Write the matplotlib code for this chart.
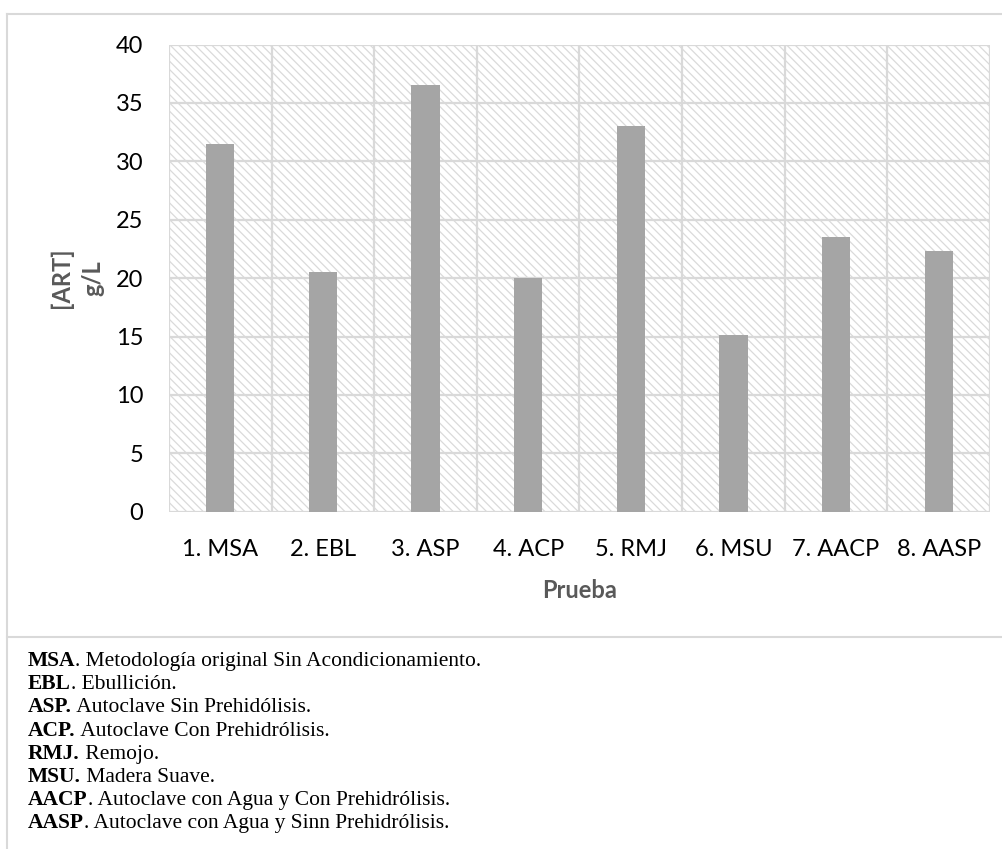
import matplotlib
matplotlib.use("Agg")
import matplotlib.pyplot as plt
from matplotlib.patches import Rectangle
from matplotlib.lines import Line2D
import numpy as np

categories = ["1. MSA", "2. EBL", "3. ASP", "4. ACP", "5. RMJ", "6. MSU", "7. AACP", "8. AASP"]
values = [31.5, 20.5, 36.5, 20.0, 33.0, 15.1, 23.5, 22.3]
yticks = [0, 5, 10, 15, 20, 25, 30, 35, 40]
note_bold = ["MSA", "EBL", "ASP.", "ACP.", "RMJ.", "MSU.", "AACP", "AASP"]
note_text = [". Metodología original Sin Acondicionamiento.",
             ". Ebullición.",
             " Autoclave Sin Prehidólisis.",
             " Autoclave Con Prehidrólisis.",
             " Remojo.",
             " Madera Suave.",
             ". Autoclave con Agua y Con Prehidrólisis.",
             ". Autoclave con Agua y Sinn Prehidrólisis."]

W, H = 1003, 849
plt.rcParams["hatch.linewidth"] = 0.9
fig = plt.figure(figsize=(W / 100, H / 100), dpi=100)
fig.patch.set_facecolor("white")

grid_c = "#d9d9d9"
sans = ["Lato", "DejaVu Sans"]

# chart area border
fig.add_artist(Line2D([7.5 / W, 7.5 / W], [0, 1 - 14 / H], color=grid_c, lw=1.5, transform=fig.transFigure))
fig.add_artist(Line2D([7.5 / W, 1], [1 - 14 / H, 1 - 14 / H], color=grid_c, lw=1.5, transform=fig.transFigure))
fig.add_artist(Line2D([7.5 / W, 1], [1 - 637 / H, 1 - 637 / H], color=grid_c, lw=1.5, transform=fig.transFigure))

left, right, top, bottom = 169, 990, 44.5, 511.7
ax = fig.add_axes([left / W, 1 - bottom / H, (right - left) / W, (bottom - top) / H])

x = np.arange(len(categories))
ax.set_xlim(-0.5, len(categories) - 0.5)
ax.set_ylim(0, 40)

# hatched background
bg = Rectangle((0, 0), 1, 1, transform=ax.transAxes, facecolor="white",
               edgecolor="#dadada", hatch="\\\\\\\\", lw=0, zorder=0)
ax.add_patch(bg)

# grid
for yv in yticks:
    ax.axhline(yv, color=grid_c, lw=1.6, zorder=1)
for xb in np.arange(-0.5, len(categories), 1.0):
    ax.axvline(xb, color=grid_c, lw=1.6, zorder=1)

ax.bar(x, values, width=0.275, color="#a5a5a5", zorder=3)

for s in ax.spines.values():
    s.set_visible(False)

ax.set_yticks(yticks)
ax.set_yticklabels([str(v) for v in yticks], fontsize=17, family=sans, color="black")
ax.set_xticks(x)
ax.set_xticklabels(categories, fontsize=17, family=sans, color="black")
ax.tick_params(axis="y", length=0, pad=18.5)
ax.tick_params(axis="x", length=0, pad=20)

fig.text(579.5 / W, 1 - 590 / H, "Prueba", ha="center", va="center",
         fontsize=17, fontweight="bold", color="#595959", family=sans)
fig.text(77 / W, 1 - 278 / H, "[ART]\ng/L", ha="center", va="center", rotation=90,
         fontsize=17, fontweight="bold", color="#595959", family=sans,
         multialignment="center", linespacing=1.45)

# notes
serif = ["Liberation Serif", "DejaVu Serif"]
y0 = 666
dy = 23.2
fig.canvas.draw()
renderer = fig.canvas.get_renderer()
for i, (b, t) in enumerate(zip(note_bold, note_text)):
    yy = 1 - (y0 + i * dy) / H
    tb = fig.text(28 / W, yy, b, ha="left", va="baseline", fontsize=15.5,
                  fontweight="bold", family=serif, color="black")
    ext = tb.get_window_extent(renderer=renderer)
    fig.text(ext.x1 / W, yy, t, ha="left", va="baseline",
             fontsize=15.5, family=serif, color="black")

fig.savefig("out.png", dpi=100)
